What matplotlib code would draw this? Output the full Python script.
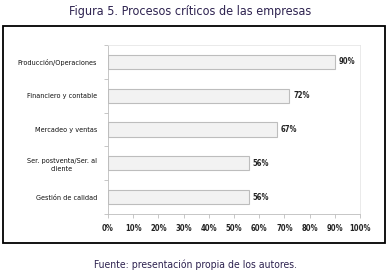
import numpy as np
import matplotlib.pyplot as plt
from matplotlib.patches import Rectangle

categories = [
    "Producción/Operaciones",
    "Financiero y contable",
    "Mercadeo y ventas",
    "Ser. postventa/Ser. al\ncliente",
    "Gestión de calidad",
]
values = [90, 72, 67, 56, 56]
xticks = np.arange(0, 101, 10)

title_color = "#2e2350"
plt.rcParams["font.family"] = ["DejaVu Sans"]
plt.rcParams["font.stretch"] = "condensed"

fig = plt.figure(figsize=(3.92, 2.79), dpi=100)

# outer frame
fig.patches.append(Rectangle(
    (3 / 392, 1 - 243 / 279), 382 / 392, 217 / 279,
    transform=fig.transFigure, fill=False, edgecolor="black", linewidth=1.3,
))

fig.text(190 / 392, 1 - 12 / 279, "Figura 5. Procesos críticos de las empresas",
         ha="center", va="center", fontsize=9, color=title_color)
fig.text(196 / 392, 1 - 265 / 279, "Fuente: presentación propia de los autores.",
         ha="center", va="center", fontsize=7.5, color=title_color)

ax = fig.add_axes([108 / 392, 1 - 214 / 279, 252 / 392, 169 / 279])
y = np.arange(len(categories))
ax.barh(y, values, height=0.42, color="#f2f2f2", edgecolor="#bdbdbd", linewidth=0.8)

for yi, v in zip(y, values):
    ax.text(v + 1.5, yi, f"{v}%", va="center", ha="left", fontsize=5.5,
            color="#222222", fontweight="bold")

ax.set_xlim(0, 100)
ax.set_ylim(len(categories) - 0.5, -0.5)
ax.set_xticks(xticks)
ax.set_xticklabels([f"{t}%" for t in xticks], fontsize=5.5, fontweight="bold", color="#222222")
ax.set_yticks(y)
ax.set_yticklabels(categories, fontsize=5.2, color="#111111", linespacing=1.4,
                   multialignment="center")
ax.set_yticks(np.arange(-0.5, len(categories), 1), minor=True)
ax.tick_params(axis="y", which="major", length=0, pad=8)
ax.tick_params(axis="y", which="minor", length=3, color="#bdbdbd", width=0.6)
ax.tick_params(axis="x", length=3, color="#bdbdbd", width=0.6, pad=4)

for side in ["top", "right"]:
    ax.spines[side].set_color("#e6e6e6")
    ax.spines[side].set_linewidth(0.6)
for side in ["left", "bottom"]:
    ax.spines[side].set_color("#bdbdbd")
    ax.spines[side].set_linewidth(0.6)

fig.savefig("out.png", dpi=100)
